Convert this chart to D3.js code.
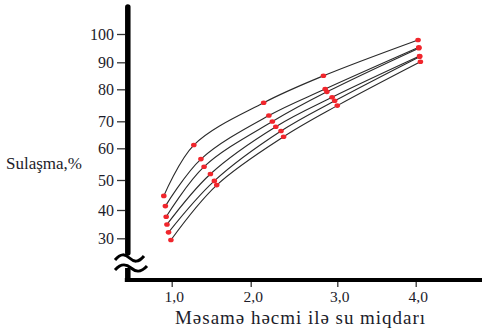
<!DOCTYPE html>
<html>
<head>
<meta charset="utf-8">
<script src="https://cdn.jsdelivr.net/npm/d3@7"></script>
<style>
  html, body { margin: 0; padding: 0; background: #fff; }
  svg { display: block; }
  text { font-family: "Liberation Serif"; fill: #1c1c2a; }
</style>
</head>
<body>
<svg id="chart" width="482" height="328"></svg>
<script>
// ---- data ----
const xTicks = [1, 2, 3, 4];
const xTickLabels = ["1,0", "2,0", "3,0", "4,0"];
const yTicks = [30, 40, 50, 60, 70, 80, 90, 100];
const xTitle = "Məsamə həcmi ilə su miqdarı";
const yTitle = "Sulaşma,%";

const curve1 = [[0.90, 44.7], [1.28, 61.2], [2.15, 75.8], [2.84, 85.0], [4.03, 97.9]];
const curve2 = [[0.92, 41.3], [1.37, 56.6], [2.21, 71.8], [2.86, 80.1], [4.04, 95.3]];
const curve3 = [[0.93, 37.6], [1.41, 54.2], [2.25, 69.9], [2.88, 79.2], [4.04, 95.0]];
const curve4 = [[0.94, 34.9], [1.49, 51.9], [2.29, 68.0], [2.94, 77.5], [4.05, 92.2]];
const curve5 = [[0.96, 32.1], [1.54, 49.7], [2.35, 66.4], [2.97, 76.4], [4.05, 92.0]];
const curve6 = [[0.99, 29.4], [1.57, 48.3], [2.38, 64.3], [3.00, 74.9], [4.06, 90.2]];
const curves = [curve1, curve2, curve3, curve4, curve5, curve6];

// ---- scales (hand-drawn axis spacing reproduced with piecewise scales) ----
const x = d3.scaleLinear().domain(xTicks).range([171.7, 250.7, 337.3, 415.7]);
const y = d3.scaleLinear().domain(yTicks).range([238.3, 210, 180, 148.3, 121.3, 89.3, 62.3, 34]);

const svg = d3.select("#chart");
const serif = "\"Liberation Serif\"";

const axisX0 = 127.8;   // y-axis line position
const axisY0 = 280;     // x-axis line position

// curves
const line = d3.line()
  .x(d => x(d[0]))
  .y(d => y(d[1]))
  .curve(d3.curveCatmullRom.alpha(0.5));

svg.append("g").selectAll("path")
  .data(curves)
  .join("path")
  .attr("d", line)
  .attr("fill", "none")
  .attr("stroke", "#2a2a2a")
  .attr("stroke-width", 1.1);

// points
svg.append("g").selectAll("g")
  .data(curves)
  .join("g")
  .selectAll("ellipse")
  .data(d => d)
  .join("ellipse")
  .attr("cx", d => x(d[0]))
  .attr("cy", d => y(d[1]))
  .attr("rx", 2.8)
  .attr("ry", 2.3)
  .attr("fill", "#f0262c");

// y axis ticks + labels
const yAxis = d3.axisLeft(y)
  .tickValues(yTicks)
  .tickSize(8)
  .tickPadding(3);
const gy = svg.append("g")
  .attr("transform", `translate(${axisX0 - 2.8},0)`)
  .call(yAxis);
gy.attr("font-family", null).attr("font-size", null);
gy.select(".domain").remove();
gy.selectAll(".tick line").attr("stroke", "#333").attr("stroke-width", 1.3);
gy.selectAll(".tick text")
  .style("font-size", "16px")
  .style("font-family", serif)
  .attr("fill", "#1c1c2a");

// x axis ticks + labels
const xAxis = d3.axisBottom(x)
  .tickValues(xTicks)
  .tickFormat((d, i) => xTickLabels[i])
  .tickSize(5)
  .tickPadding(4);
const gx = svg.append("g")
  .attr("transform", `translate(0,${axisY0 + 2})`)
  .call(xAxis);
gx.attr("font-family", null).attr("font-size", null);
gx.select(".domain").remove();
gx.selectAll(".tick line").attr("stroke", "#333").attr("stroke-width", 1.3);
gx.selectAll(".tick text")
  .attr("dx", 2)
  .style("font-size", "15.5px")
  .style("font-family", serif)
  .attr("fill", "#1c1c2a");

// thick axis lines
svg.append("line")
  .attr("x1", axisX0).attr("x2", axisX0)
  .attr("y1", 7).attr("y2", 253)
  .attr("stroke", "#000").attr("stroke-width", 5.5).attr("stroke-linecap", "round");
svg.append("line")
  .attr("x1", axisX0).attr("x2", axisX0)
  .attr("y1", 268).attr("y2", axisY0)
  .attr("stroke", "#000").attr("stroke-width", 5.5);
svg.append("line")
  .attr("x1", axisX0 - 3).attr("x2", 482)
  .attr("y1", axisY0).attr("y2", axisY0)
  .attr("stroke", "#000").attr("stroke-width", 4);

// axis break tildes
const tilde = (cy, x0, x1) => {
  const w = x1 - x0;
  return `M${x0},${cy + 2} C${x0 + w * 0.2},${cy - 5} ${x0 + w * 0.35},${cy - 4} ${x0 + w * 0.5},${cy}` +
         ` S${x0 + w * 0.8},${cy + 5} ${x1},${cy - 2}`;
};
svg.append("path").attr("d", tilde(258, 115, 144))
  .attr("fill", "none").attr("stroke", "#000").attr("stroke-width", 3);
svg.append("path").attr("d", tilde(268, 115, 147))
  .attr("fill", "none").attr("stroke", "#000").attr("stroke-width", 3);

// titles
svg.append("text")
  .attr("x", 175).attr("y", 323.5)
  .style("font-family", serif)
  .style("font-size", "19px")
  .attr("textLength", 250)
  .attr("lengthAdjust", "spacing")
  .text(xTitle);
svg.append("text")
  .attr("x", 6).attr("y", 169)
  .style("font-family", serif)
  .style("font-size", "17px")
  .text(yTitle);
</script>
</body>
</html>
